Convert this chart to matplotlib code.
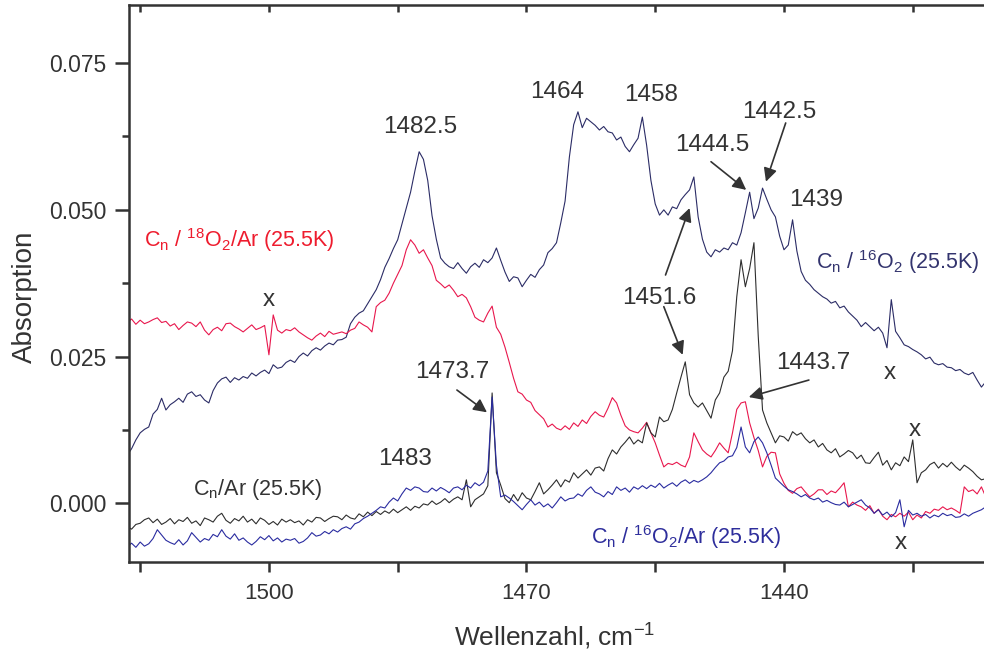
import numpy as np
import matplotlib
matplotlib.use("Agg")
import matplotlib.pyplot as plt
from matplotlib.ticker import MultipleLocator, NullFormatter

plt.rcParams["font.family"] = ["Liberation Sans", "DejaVu Sans"]
plt.rcParams["mathtext.fontset"] = "custom"
plt.rcParams["mathtext.rm"] = "Liberation Sans"
plt.rcParams["mathtext.it"] = "Liberation Sans:italic"
plt.rcParams["mathtext.default"] = "regular"

# wavenumber grid (cm^-1), 0.5 cm^-1 spacing, high to low
wavenumber = np.arange(1516.5, 1416.4, -0.5)

# absorbance values in units of 1e-3
cn_16o2 = [
    8.2, 9.3, 10.8, 12.0, 12.6, 13.0, 15.2, 16.0, 17.9, 15.9,
    16.8, 17.3, 17.9, 17.2, 18.6, 19.0, 18.2, 18.5, 17.6, 17.1,
    19.2, 20.5, 21.2, 21.5, 20.6, 21.4, 21.0, 21.6, 21.3, 22.2,
    21.7, 22.3, 22.7, 22.1, 23.6, 23.0, 23.2, 24.0, 24.4, 24.0,
    25.0, 25.6, 25.1, 26.0, 26.5, 26.1, 26.8, 27.3, 27.0, 27.8,
    27.9, 28.3, 30.6, 31.7, 32.4, 32.8, 34.0, 35.2, 36.4, 38.1,
    40.2, 41.7, 43.4, 44.9, 47.6, 50.3, 53.0, 56.6, 59.9, 58.6,
    55.0, 49.0, 45.0, 41.8, 40.9, 40.3, 40.0, 41.0, 40.0, 39.2,
    40.3, 40.9, 40.2, 41.5, 41.0, 41.8, 43.5, 41.4, 39.4, 37.8,
    38.6, 38.4, 36.9, 38.0, 39.0, 38.5, 39.8, 40.6, 42.7, 43.4,
    44.4, 47.8, 51.5, 59.0, 64.5, 66.7, 64.0, 65.6, 65.0, 64.4,
    63.6, 64.2, 63.3, 63.1, 61.9, 62.4, 60.8, 59.9, 61.1, 62.2,
    65.8, 61.0, 55.0, 51.0, 49.1, 50.0, 49.1, 50.5, 50.2, 51.7,
    52.6, 53.4, 55.6, 48.8, 45.0, 42.8, 42.0, 43.2, 42.8, 43.5,
    43.2, 44.4, 44.0, 46.1, 49.5, 53.0, 48.5, 50.3, 53.7, 51.8,
    50.0, 48.8, 45.5, 43.2, 44.0, 48.3, 43.0, 39.5, 38.0, 37.3,
    36.4, 35.8, 35.2, 34.8, 34.1, 34.4, 33.3, 33.6, 32.6, 31.9,
    31.2, 30.1, 30.8, 30.1, 29.4, 30.0, 29.0, 26.5, 34.7, 29.3,
    28.2, 27.0, 26.7, 26.2, 25.8, 25.3, 24.6, 24.9, 23.9, 23.6,
    23.8, 23.2, 23.1, 22.6, 22.8, 22.2, 21.9, 22.3, 21.0, 19.8,
    20.7,
]

cn_18o2_ar = [
    30.8, 31.4, 30.5, 31.2, 30.6, 30.9, 31.3, 31.6, 30.8, 31.0,
    30.2, 30.6, 29.6, 30.3, 30.9, 30.7, 30.1, 30.9, 29.5, 28.7,
    29.6, 30.0, 29.4, 30.6, 30.7, 30.1, 29.7, 29.2, 29.8, 30.4,
    29.6, 29.9, 30.3, 25.3, 32.1, 29.5, 29.0, 29.6, 29.4, 29.9,
    29.2, 28.7, 28.2, 27.8, 28.5, 29.0, 28.4, 29.3, 28.8, 29.0,
    29.2, 28.9, 29.5, 29.8, 30.9, 30.4, 30.0, 29.2, 33.5, 34.2,
    34.6, 35.8, 37.5, 39.0, 40.5, 43.2, 44.9, 44.0, 42.6, 43.2,
    41.8, 40.5, 38.0, 37.4, 36.7, 37.2, 36.3, 35.2, 35.6, 35.0,
    33.5, 31.7, 31.2, 30.9, 32.4, 33.6, 30.0, 28.8, 26.6, 24.0,
    21.3, 19.0, 18.6, 17.6, 17.2, 15.8, 15.1, 14.4, 13.0, 13.5,
    12.8, 12.5, 13.2, 12.6, 13.7, 13.1, 14.2, 13.6, 14.8, 15.6,
    15.0, 14.7, 16.2, 18.0, 17.1, 15.0, 13.2, 12.5, 12.2, 12.0,
    12.8, 13.8, 12.0, 10.3, 8.2, 6.2, 6.8, 6.6, 7.0, 6.5,
    6.2, 7.9, 12.0, 10.5, 9.1, 8.4, 7.9, 9.0, 10.3, 9.4,
    8.6, 12.0, 16.0, 17.1, 17.3, 13.7, 11.2, 9.0, 6.2, 8.0,
    8.7, 8.6, 5.0, 3.4, 2.2, 1.7, 2.5, 2.8, 1.9, 1.1,
    1.6, 2.3, 2.3, 1.5, 2.1, 1.8, 2.6, 3.5, -0.6, 0.2,
    -0.3, -0.6, -1.2, -0.4, -1.7, -1.0, -2.2, -2.8, -1.9, -2.3,
    -1.7, -2.2, -1.5, -2.8, -2.0, -2.5, -1.4, -1.7, -1.0, -1.2,
    -0.6, -1.1, -0.8, -1.2, -1.7, 2.8, 2.0, 2.3, 1.6, 2.8,
    1.1,
]

cn_ar = [
    -4.0, -4.4, -3.6, -3.4, -2.8, -2.5, -3.3, -2.7, -3.6, -3.2,
    -2.6, -3.5, -2.8, -3.1, -2.4, -3.4, -3.0, -3.8, -2.5, -2.8,
    -3.2, -2.2, -1.7, -2.9, -3.4, -2.6, -3.0, -2.2, -3.2, -2.7,
    -3.5, -2.5, -2.9, -3.6, -3.1, -3.7, -2.7, -3.2, -2.8, -3.3,
    -3.0, -3.7, -2.8, -3.2, -2.4, -2.5, -3.1, -2.6, -2.2, -2.3,
    -2.8, -2.0, -2.5, -2.7, -1.8, -2.3, -1.5, -2.1, -1.4, -1.9,
    -1.3, -1.7, -1.0, -1.6, -1.1, -0.6, -1.2, -0.5, -0.8, -0.1,
    -0.3, 0.4, -0.2, 0.2, 0.8, 0.1, 0.7, 1.1, 0.6, 4.0,
    -0.6, 0.6, 1.1, 1.6, 3.0, 18.8, 5.2, 3.1, 0.8, 0.1,
    1.5, 0.4, 1.8, 0.9, 0.6, 2.0, 3.5, 1.6, 2.3, 3.1,
    4.0, 2.8, 4.0, 3.6, 5.2, 4.3, 5.0, 5.7, 4.8, 6.0,
    6.2, 5.5, 7.6, 9.1, 8.4, 9.6, 10.4, 11.3, 10.1, 10.8,
    10.3, 13.7, 12.0, 11.3, 14.7, 13.9, 14.2, 16.0, 18.8, 21.5,
    24.1, 18.5, 17.1, 16.4, 17.1, 15.8, 14.5, 17.6, 18.8, 21.5,
    22.5, 26.0, 35.2, 41.5, 36.9, 40.0, 44.4, 28.5, 15.9, 13.7,
    12.0, 10.3, 11.5, 11.3, 10.6, 12.2, 11.6, 12.0, 11.0, 10.3,
    10.8, 9.6, 10.2, 9.1, 8.6, 9.3, 7.9, 8.4, 9.0, 8.6,
    7.6, 8.2, 6.9, 6.8, 7.8, 8.7, 6.5, 7.3, 5.7, 6.9,
    6.4, 7.9, 7.1, 10.8, 3.5, 5.2, 5.7, 6.6, 7.0, 6.0,
    6.8, 6.2, 7.0, 6.2, 5.6, 6.5, 6.0, 5.4, 4.6, 4.0,
    4.2,
]

cn_16o2_ar = [
    -7.4, -6.8, -7.5, -6.6, -7.3, -6.9, -6.0, -4.5, -5.4, -6.3,
    -6.7, -7.0, -6.2, -7.1, -6.4, -5.0, -5.8, -6.6, -6.0, -6.3,
    -5.3, -5.7, -4.5, -5.6, -6.1, -5.2, -6.3, -5.9, -6.6, -7.1,
    -6.5, -5.7, -6.2, -5.5, -6.4, -5.9, -6.6, -6.1, -6.3, -6.0,
    -6.8, -6.5, -5.9, -5.0, -5.6, -5.4, -4.8, -5.2, -4.5, -4.9,
    -4.3, -4.0, -4.4, -3.5, -3.2, -2.6, -2.2, -1.7, -1.2, -0.6,
    -0.8, 0.2, 0.9, 0.4, 1.6, 2.6, 2.2, 2.8, 2.6, 2.0,
    1.9, 2.6, 2.1, 2.7, 2.3, 1.8, 2.6, 2.8, 2.3, 3.1,
    2.6, 3.5, 3.0, 3.6, 5.5, 18.1, 6.5, 1.1, 1.4, 0.9,
    0.3, -0.4, -1.1, -0.2, 0.6, -0.3, 0.2, -0.6, -0.1, -0.8,
    0.1, 1.1, 0.4, 0.8, 0.9, 1.6, 1.2, 2.2, 2.8, 1.9,
    1.6, 1.1, 2.0, 1.5, 2.8, 2.2, 2.6, 1.9, 2.8, 2.4,
    3.0, 2.5, 3.1, 2.7, 3.4, 2.6, 3.1, 3.5, 2.9, 3.6,
    4.0, 3.4, 3.9, 3.6, 4.0, 4.5, 5.2, 6.1, 6.9, 7.2,
    7.9, 8.1, 9.5, 13.0, 9.6, 8.6, 10.5, 11.3, 10.3, 8.6,
    6.5, 4.3, 3.6, 2.9, 2.3, 2.0, 1.6, 1.1, 1.5, 0.9,
    0.6, 0.9, 0.2, 0.5, 0.1, -0.2, -0.3, 0.2, -0.6, -0.2,
    0.2, 0.6, -0.3, -0.8, -1.7, -1.1, -2.0, -1.5, -2.3, -1.6,
    0.6, -4.0, -1.2, -2.0, -1.7, -2.2, -1.9, -2.5, -2.0, -2.3,
    -1.7, -2.1, -1.9, -2.4, -2.3, -1.8, -2.2, -1.7, -1.4, -1.1,
    -0.6,
]

# peak labels: text, text position (cm^-1, abs*1e3)
peak_labels = ["1482.5", "1464", "1458", "1439", "1483"]
peak_label_pos = [(1482.4, 64.1), (1466.4, 70.1), (1455.5, 69.6), (1436.3, 51.7), (1484.1, 7.5)]

# arrowed labels: text, text position, arrow start, arrow tip
arrow_labels = ["1473.7", "1451.6", "1444.5", "1442.5", "1443.7"]
arrow_text_pos = [(1478.7, 22.4), (1454.5, 35.0), (1448.3, 61.0), (1440.5, 66.6), (1436.6, 23.9)]
arrow_tails = [[(1478.1, 19.3)], [(1453.8, 38.9), (1454.0, 33.5)], [(1448.5, 58.2)],
               [(1439.8, 64.8)], [(1437.1, 21.0)]]
arrow_tips = [[(1474.6, 15.5)], [(1451.0, 50.3), (1451.8, 25.3)], [(1444.4, 53.4)],
              [(1442.1, 54.8)], [(1444.1, 18.1)]]

# artefact markers
x_marks = [(1500.05, 34.6), (1427.7, 22.2), (1424.8, 12.5), (1426.4, -6.8)]

C_NAVY = "#2b2c66"
C_RED = "#e8174d"
C_BLACK = "#2e2e2e"
C_BLUE = "#2a2ca0"
C_TEXT = "#333333"

fig = plt.figure(figsize=(9.84, 6.58), dpi=100)
ax = fig.add_axes([129 / 984, 1 - 561.7 / 658, (984 - 129) / 984, (561.7 - 5) / 658])

scale = 1e-3
lw = 0.8
ax.plot(wavenumber, np.array(cn_16o2) * scale, color=C_NAVY, lw=lw)
ax.plot(wavenumber, np.array(cn_18o2_ar) * scale, color=C_RED, lw=lw)
ax.plot(wavenumber, np.array(cn_ar) * scale, color=C_BLACK, lw=lw)
ax.plot(wavenumber, np.array(cn_16o2_ar) * scale, color=C_BLUE, lw=lw)

ax.set_xlim(1516.3, 1416.7)
ax.set_ylim(-0.00995, 0.0849)

fs = 17.5
for txt, (x, y) in zip(peak_labels, peak_label_pos):
    ax.text(x, y * scale, txt, ha="center", va="center", fontsize=fs, color=C_TEXT)

for txt, pos, tails, tips in zip(arrow_labels, arrow_text_pos, arrow_tails, arrow_tips):
    ax.text(pos[0], pos[1] * scale, txt, ha="center", va="center", fontsize=fs, color=C_TEXT)
    for (tx, ty), (hx, hy) in zip(tails, tips):
        ax.annotate("", xy=(hx, hy * scale), xytext=(tx, ty * scale),
                    arrowprops=dict(arrowstyle="-|>", color=C_TEXT, lw=1.2,
                                    mutation_scale=20, shrinkA=0, shrinkB=0))

for (x, y) in x_marks:
    ax.text(x, y * scale, "x", ha="center", va="center", fontsize=fs, color=C_TEXT)

sfs = 15.5
ax.text(1514.6, 44.8 * scale, r"C$_{n}$ / $^{18}$O$_{2}$/Ar (25.5K)",
        ha="left", va="center", fontsize=sfs, color="#ee1c2e")
ax.text(1436.3, 41.1 * scale, r"C$_{n}$ / $^{16}$O$_{2}$ (25.5K)",
        ha="left", va="center", fontsize=sfs, color="#33346e")
ax.text(1508.9, 2.4 * scale, r"C$_{n}$/Ar (25.5K)",
        ha="left", va="center", fontsize=sfs, color=C_TEXT)
ax.text(1462.5, -5.8 * scale, r"C$_{n}$ / $^{16}$O$_{2}$/Ar (25.5K)",
        ha="left", va="center", fontsize=sfs, color="#2e2e9c")

# axes styling
for side in ["left", "bottom", "top"]:
    ax.spines[side].set_linewidth(1.8)
    ax.spines[side].set_color(C_TEXT)
ax.spines["right"].set_visible(False)

ax.xaxis.set_major_locator(MultipleLocator(30))
ax.xaxis.set_minor_locator(MultipleLocator(15))
ax.xaxis.set_minor_formatter(NullFormatter())
ax.yaxis.set_major_locator(MultipleLocator(0.025))
ax.yaxis.set_minor_locator(MultipleLocator(0.0125))
ax.yaxis.set_major_formatter(plt.FuncFormatter(lambda v, p: f"{v:.3f}"))

ax.tick_params(axis="x", which="both", direction="out", length=7, width=1.8,
               color=C_TEXT, labelsize=16, labelcolor=C_TEXT, pad=8, top=False)
ax.tick_params(axis="y", which="major", direction="out", length=10, width=1.8,
               color=C_TEXT, labelsize=16.5, labelcolor=C_TEXT, pad=6, right=False)
ax.tick_params(axis="y", which="minor", direction="out", length=5, width=1.8,
               color=C_TEXT, right=False)

# inward ticks along the top edge
top = ax.secondary_xaxis("top")
top.xaxis.set_major_locator(MultipleLocator(30))
top.xaxis.set_minor_locator(MultipleLocator(15))
top.tick_params(axis="x", which="both", direction="in", length=5, width=1.8,
                color=C_TEXT, labeltop=False)
top.spines["top"].set_visible(False)

fig.text(555 / 984, 1 - 637 / 658, r"Wellenzahl, cm$^{-1}$", fontsize=19,
         color=C_TEXT, ha="center", va="center")
fig.text(25 / 984, 1 - 297 / 658, "Absorption", fontsize=20, rotation=90,
         color=C_TEXT, ha="center", va="center")

fig.savefig("out.png", dpi=100)
